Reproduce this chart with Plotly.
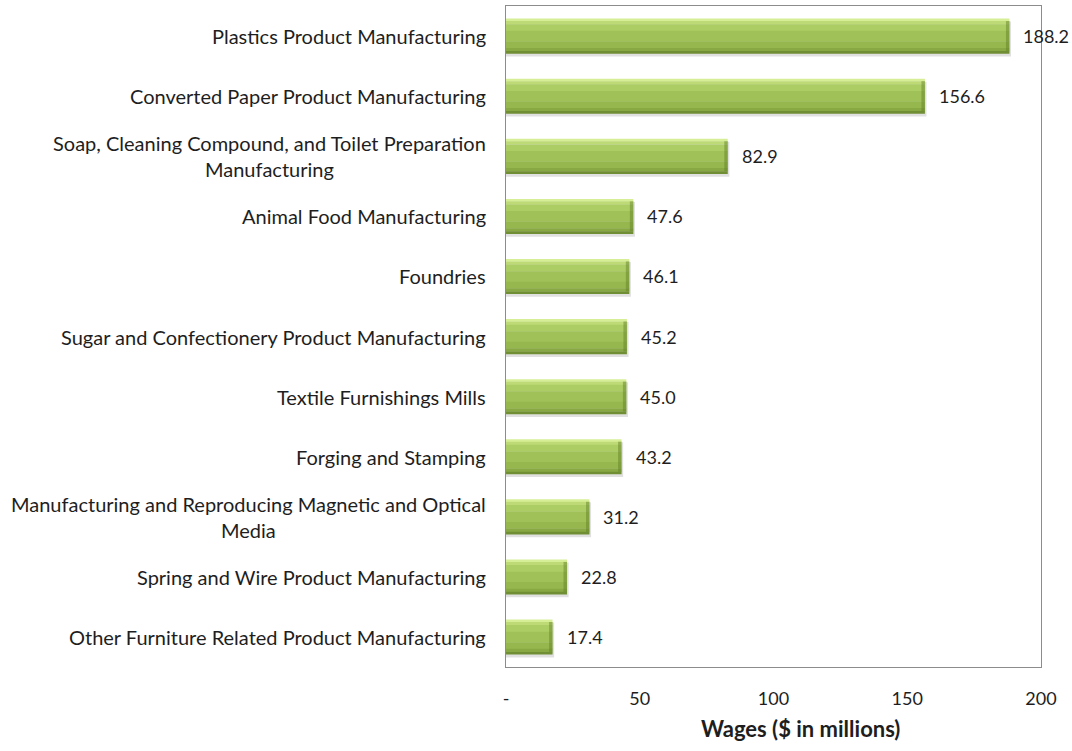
import plotly.graph_objects as go

# Industry wages, top to bottom
industries = [
    "Plastics Product Manufacturing",
    "Converted Paper Product Manufacturing",
    "Soap, Cleaning Compound, and Toilet Preparation<br>Manufacturing",
    "Animal Food Manufacturing",
    "Foundries",
    "Sugar and Confectionery Product Manufacturing",
    "Textile Furnishings Mills",
    "Forging and Stamping",
    "Manufacturing and Reproducing Magnetic and Optical<br>Media",
    "Spring and Wire Product Manufacturing",
    "Other Furniture Related Product Manufacturing",
]
wages = [188.2, 156.6, 82.9, 47.6, 46.1, 45.2, 45.0, 43.2, 31.2, 22.8, 17.4]

x_tickvals = [0, 50, 100, 150, 200]
x_ticktext = ["-", "50", "100", "150", "200"]
x_title = "Wages ($ in millions)"

FONT = "Lato, Open Sans, sans-serif"
TEXT_COLOR = "#1e1e1e"
BAR_W = 0.58

pos = list(range(len(industries)))
fig = go.Figure()

# soft drop shadow under each bar
fig.add_trace(go.Bar(
    y=pos, x=[v + 0.6 for v in wages], orientation="h",
    width=BAR_W, offset=-BAR_W / 2 + 0.05,
    marker=dict(color="rgba(0,0,0,0.12)", line=dict(width=0)),
    hoverinfo="skip", showlegend=False,
))

# bevelled green bars built from horizontal colour strips (top -> bottom)
strips = [
    (0.00, 0.07, "#D6EF96"),
    (0.07, 0.16, "#BEDA76"),
    (0.16, 0.35, "#ACCD64"),
    (0.35, 0.65, "#9FC157"),
    (0.65, 0.84, "#95B74D"),
    (0.84, 0.93, "#87A843"),
    (0.93, 1.00, "#708E33"),
]
for f0, f1, col in strips:
    fig.add_trace(go.Bar(
        y=pos, x=wages, orientation="h",
        width=(f1 - f0) * BAR_W + 0.004, offset=-BAR_W / 2 + f0 * BAR_W,
        marker=dict(color=col, line=dict(width=0)),
        hoverinfo="skip", showlegend=False,
    ))

# darker bevel at the right end of each bar
end_w = 1.3
fig.add_trace(go.Bar(
    y=pos, x=[end_w] * len(wages), base=[v - end_w for v in wages], orientation="h",
    width=BAR_W * 0.86, offset=-BAR_W * 0.43,
    marker=dict(color="rgba(95,125,35,0.45)", line=dict(width=0)),
    hoverinfo="skip", showlegend=False,
))

annotations = []
# category labels (centred multi-line text, right-aligned to the plot)
for i, name in enumerate(industries):
    annotations.append(dict(
        x=0, xref="paper", y=i, yref="y", text=name, showarrow=False,
        xanchor="right", yanchor="middle", align="center", xshift=-18,
        font=dict(family=FONT, size=20, color=TEXT_COLOR),
    ))
# value labels
for i, v in enumerate(wages):
    annotations.append(dict(
        x=v, xref="x", y=i, yref="y", text=f"{v:.1f}", showarrow=False,
        xanchor="left", yanchor="middle", xshift=12,
        font=dict(family=FONT, size=18, color=TEXT_COLOR),
    ))
# axis title
annotations.append(dict(
    x=0.55, xref="paper", y=0, yref="paper", yshift=-61,
    text=f"<b>{x_title}</b>", showarrow=False,
    xanchor="center", yanchor="middle",
    font=dict(family=FONT, size=22, color=TEXT_COLOR),
))

fig.update_layout(
    width=1072, height=751,
    margin=dict(l=506, r=31, t=6, b=84),
    paper_bgcolor="white", plot_bgcolor="white",
    barmode="overlay",
    font=dict(family=FONT, size=16, color=TEXT_COLOR),
    annotations=annotations,
    xaxis=dict(
        range=[0, 200], tickvals=x_tickvals, ticktext=x_ticktext,
        showgrid=False, zeroline=False, showline=True, mirror=True,
        linecolor="#8C8C8C", linewidth=1, ticks="", ticklabelstandoff=15,
        tickfont=dict(family=FONT, size=18, color=TEXT_COLOR),
    ),
    yaxis=dict(
        range=[len(industries) - 0.5, -0.5], showticklabels=False,
        showgrid=False, zeroline=False, showline=True, mirror=True,
        linecolor="#8C8C8C", linewidth=1, ticks="",
    ),
)

fig.write_html("out.html")
